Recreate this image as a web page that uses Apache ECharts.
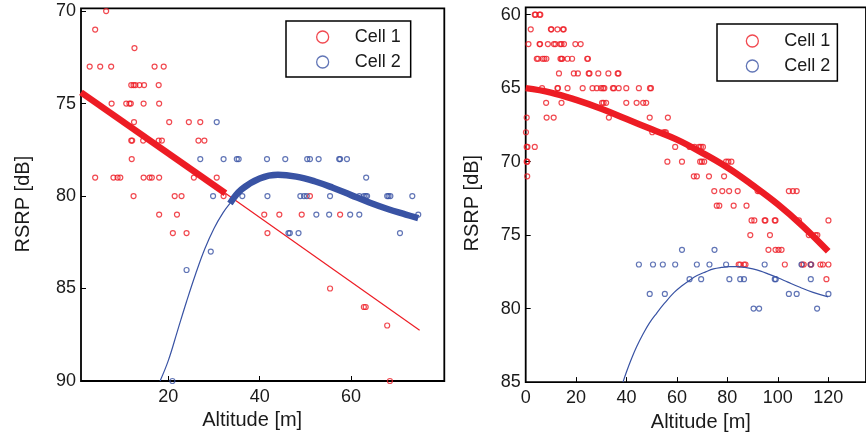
<!DOCTYPE html>
<html>
<head>
<meta charset="utf-8">
<script src="https://cdn.jsdelivr.net/npm/echarts@6/dist/echarts.min.js"></script>
<style>
html,body{margin:0;padding:0;background:#fff;}
#chart{width:866px;height:437px;}
</style>
</head>
<body>
<div id="chart"></div>
<script>
// ---------- Left panel data [altitude m, RSRP dB] ----------
const leftCell1 = [
  [6.4,70],[4.0,71],[12.6,72],
  [2.8,73],[5.1,73],[7.5,73],[17.0,73],[19.0,73],
  [11.9,74],[12.4,74],[12.8,74],[13.7,74],[14.7,74],[17.9,74],
  [7.6,75],[10.8,75],[11.5,75],[11.8,75],[14.6,75],[18.0,75],
  [12.5,76],[20.2,76],[24.5,76],[27.0,76],
  [11.9,77],[12.1,77],[14.5,77],[17.9,77],[18.6,77],[26.6,77],[27.9,77],
  [12.0,78],
  [4.0,79],[8.0,79],[8.9,79],[9.5,79],[14.6,79],[15.9,79],[16.4,79],[18.0,79],[25.6,79],[30.6,79],
  [12.4,80],[21.4,80],[22.9,80],[32.1,80],[51.0,80],
  [18.0,81],[21.9,81],[41.0,81],[44.3,81],[49.2,81],[57.6,81],
  [21.0,82],[24.0,82],[41.7,82],
  [55.4,85],[62.8,86],[63.2,86],[67.9,87],[68.5,90]
];
const leftCell2 = [
  [30.6,76],
  [27.0,78],[32.1,78],[35.0,78],[35.4,78],[41.6,78],[45.6,78],[50.4,78],[51.0,78],[52.9,78],[57.4,78],[57.6,78],[59.1,78],
  [63.3,79],
  [29.8,80],[36.2,80],[41.7,80],[48.9,80],[49.7,80],[50.3,80],[55.4,80],[61.8,80],[62.8,80],[63.2,80],[63.5,80],[67.9,80],[68.2,80],[68.6,80],[73.4,80],
  [52.4,81],[55.2,81],[59.8,81],[61.8,81],[74.7,81],
  [46.3,82],[46.6,82],[48.5,82],[70.7,82],
  [29.3,83],[24.0,84],[20.9,90]
];
// fitted curves
const leftFit1Thick = [[0.9,74.4],[32.5,79.85]];
const leftFit1Thin  = [[32.5,79.85],[75.0,87.25]];
const leftFit2Thin  = [[18.2,90.0],[20,88.9],[22,87.3],[24,85.7],[26,84.2],[28,82.85],[30,81.75],[32,80.9],[33.5,80.4]];
const leftFit2Thick = [[33.5,80.4],[36,79.65],[40,79.05],[44,78.85],[48,78.95],[52,79.2],[56,79.55],[60,79.95],[64,80.35],[68,80.7],[72,81.0],[74.7,81.2]];

// ---------- Right panel data ----------
const rightCell1 = [
  [3.6,60],[3.9,60],[5.5,60],[5.8,60],
  [2.0,61],[10.0,61],[10.2,61],[12.6,61],[14.8,61],[15.1,61],
  [1.1,62],[5.5,62],[5.7,62],[8.8,62],[11.2,62],[11.8,62],[13.7,62],[14.2,62],[15.2,62],[19.7,62],[21.8,62],
  [4.4,63],[4.9,63],[6.7,63],[7.4,63],[8.2,63],[13.8,63],[14.2,63],[14.5,63],[16.6,63],[18.4,63],[24.4,63],[24.7,63],
  [13.2,64],[19.1,64],[20.7,64],[25.0,64],[25.3,64],[28.8,64],[32.8,64],[36.5,64],[36.8,64],
  [6.5,65],[12.6,65],[12.8,65],[16.6,65],[22.6,65],[26.5,65],[28.2,65],[29.9,65],[30.7,65],[31.2,65],[34.6,65],[35.0,65],[36.9,65],[39.9,65],[44.9,65],[49.3,65],[49.7,65],
  [8.1,66],[14.2,66],[30.3,66],[30.9,66],[31.9,66],[39.9,66],[44.0,66],[46.6,66],[47.8,66],
  [0.4,67],[8.3,67],[11.1,67],[33.0,67],[49.2,67],[56.4,67],
  [0.1,68],[50.2,68],[54.6,68],[55.2,68],[55.6,68],
  [0.4,69],[0.7,69],[3.6,69],[59.3,69],[65.0,69],[67.0,69],[68.8,69],[69.5,69],[70.3,69],
  [0.4,70],[0.6,70],[56.2,70],[62.0,70],[69.2,70],[69.9,70],[70.8,70],[79.5,70],[80.4,70],[81.6,70],
  [0.6,71],[66.7,71],[67.9,71],[72.7,71],[78.7,71],
  [74.8,72],[78.0,72],[80.7,72],[84.1,72],[92.0,72],[92.6,72],[104.4,72],[106.0,72],[107.5,72],
  [75.8,73],[76.8,73],[82.5,73],[87.6,73],
  [89.6,74],[90.7,74],[94.8,74],[95.1,74],[98.8,74],[99.1,74],[108.4,74],[120.1,74],
  [89.1,75],[96.9,75],[112.3,75],[115.0,75],[115.7,75],
  [96.3,76],[99.1,76],[100.3,76],[101.5,76],
  [84.5,77],[85.1,77],[86.6,77],[87.2,77],[102.8,77],[109.7,77],[110.3,77],[113.0,77],[113.3,77],[116.9,77],[117.9,77],[120.1,77],
  [119.3,78]
];
const rightCell2 = [
  [62.0,76],[74.9,76],
  [44.9,77],[50.5,77],[54.4,77],[59.3,77],[67.9,77],[72.9,77],[79.5,77],[94.8,77],[109.4,77],[113.1,77],
  [65.0,78],[69.6,78],[80.8,78],[85.1,78],[86.6,78],[98.8,78],[99.2,78],[113.1,78],
  [49.2,79],[55.2,79],[104.4,79],[107.5,79],[120.1,79],
  [90.4,80],[92.6,80],[115.6,80]
];
const rightFit1 = [[0,65.0],[10,65.3],[20,65.8],[30,66.4],[40,67.1],[50,67.8],[60,68.5],[70,69.4],[80,70.4],[90,71.6],[100,72.9],[110,74.4],[120,76.1]];
const rightFit2 = [[38.6,85.0],[40,84.3],[42,83.4],[44,82.6],[46.5,81.75],[49,81.0],[52,80.3],[55,79.65],[58.9,78.9],[62,78.45],[65.2,78.05],[68,77.75],[71.4,77.5],[74.5,77.3],[77.6,77.2],[80.8,77.15],[83.9,77.15],[87,77.2],[90.1,77.3],[93.2,77.45],[96.3,77.65],[100,77.9],[104,78.2],[108.8,78.55],[114,78.9],[120,79.2]];

// ---------- ticks ----------
const leftXTicks = [20,40,60];
const leftYTicks = [70,75,80,85,90];
const rightXTicks = [0,20,40,60,80,100,120];
const rightYTicks = [60,65,70,75,80,85];
const legendNames = ['Cell 1','Cell 2'];

const RED = '#ed1c24', BLUE = '#3953a4';
const FONT = 'Liberation Sans, Arial, Helvetica, sans-serif';

function xAxisOpt(idx, min, max, ticks, namePad){
  return {
    type:'value', gridIndex:idx, min:min, max:max,
    name:'Altitude [m]', nameLocation:'middle', nameGap:24,
    nameTextStyle:{fontFamily:FONT, fontSize:20, color:'#1a1a1a', padding:namePad},
    axisLine:{show:false}, splitLine:{show:false},
    axisTick:{show:true, inside:true, length:5, lineStyle:{color:'#000', width:1}, customValues:ticks},
    axisLabel:{fontFamily:FONT, fontSize:18, color:'#1a1a1a', margin:7, customValues:ticks}
  };
}
function yAxisOpt(idx, min, max, ticks, gap, namePad){
  return {
    type:'value', gridIndex:idx, min:min, max:max, inverse:true,
    name:'RSRP [dB]', nameLocation:'middle', nameGap:gap,
    nameTextStyle:{fontFamily:FONT, fontSize:20, color:'#1a1a1a', padding:namePad},
    axisLine:{show:false}, splitLine:{show:false},
    axisTick:{show:true, inside:true, length:5, lineStyle:{color:'#000', width:1}, customValues:ticks},
    axisLabel:{fontFamily:FONT, fontSize:18, color:'#1a1a1a', margin:5, customValues:ticks}
  };
}
function scatter(name, data, color, idx){
  return {name:name, type:'scatter', xAxisIndex:idx, yAxisIndex:idx, data:data,
    symbol:'circle', symbolSize:5, z:3,
    itemStyle:{color:'rgba(255,255,255,0)', borderColor:color, borderWidth:1.2},
    emphasis:{disabled:true}};
}
function fit(name, data, color, width, idx, smooth){
  return {name:name, type:'line', xAxisIndex:idx, yAxisIndex:idx, data:data,
    symbol:'none', smooth:smooth, z:4, silent:true,
    lineStyle:{color:color, width:width, cap:'butt', join:'round'}};
}
function legendOpt(left, top, pad, gap){
  return {
    orient:'vertical', left:left, top:top, padding:pad,
    itemWidth:54, itemHeight:12, itemGap:gap,
    borderColor:'#000', borderWidth:1.5, backgroundColor:'#fff',
    textStyle:{fontFamily:FONT, fontSize:18, color:'#1a1a1a', lineHeight:20},
    selectedMode:false,
    data:[
      {name:legendNames[0], icon:'circle', itemStyle:{color:'#fff', borderColor:RED, borderWidth:1.3}},
      {name:legendNames[1], icon:'circle', itemStyle:{color:'#fff', borderColor:BLUE, borderWidth:1.3}}
    ]
  };
}

const chart = echarts.init(document.getElementById('chart'), null, {renderer:'canvas'});
chart.setOption({
  backgroundColor:'#fff',
  animation:false,
  grid:[
    {left:81, top:8.3, width:363.3, height:372.7, show:true, borderColor:'#000', borderWidth:1.8, backgroundColor:'#fff'},
    {left:525.7, top:7.3, width:361.1, height:375, show:true, borderColor:'#000', borderWidth:1.8, backgroundColor:'#fff'}
  ],
  xAxis:[
    xAxisOpt(0, 0.9, 80.4, leftXTicks, [0,21,0,0]),
    xAxisOpt(1, 0, 135, rightXTicks, [0,0,0,10])
  ],
  yAxis:[
    yAxisOpt(0, 69.85, 90, leftYTicks, 48, [0,19,0,0]),
    yAxisOpt(1, 59.5, 85, rightYTicks, 43, [0,17,0,0])
  ],
  legend:[
    legendOpt(286, 21, [6,10,5,30], 5),
    legendOpt(717, 24, [7,7,5,28.7], 5)
  ],
  series:[
    scatter('Cell 1', leftCell1, RED, 0),
    scatter('Cell 2', leftCell2, BLUE, 0),
    fit('fit1a', leftFit1Thick, RED, 6.5, 0, false),
    fit('fit1b', leftFit1Thin, RED, 1.2, 0, false),
    fit('fit2a', leftFit2Thin, BLUE, 1.2, 0, 0.4),
    fit('fit2b', leftFit2Thick, BLUE, 6.5, 0, 0.4),
    scatter('Cell 1', rightCell1, RED, 1),
    scatter('Cell 2', rightCell2, BLUE, 1),
    fit('fit1r', rightFit1, RED, 6.5, 1, 0.4),
    fit('fit2r', rightFit2, BLUE, 1.2, 1, 0.4)
  ]
});
</script>
</body>
</html>
